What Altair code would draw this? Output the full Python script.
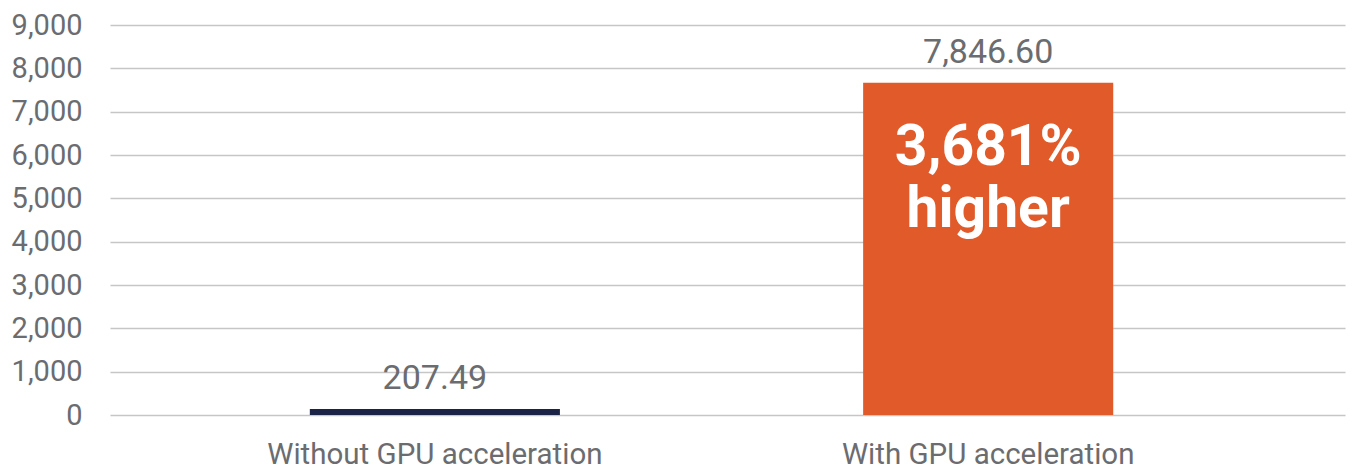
import altair as alt
import pandas as pd

categories = ["Without GPU acceleration", "With GPU acceleration"]
bar_values = [140, 7670]          # bar heights as drawn in the picture
value_labels = ["207.49", "7,846.60"]
bar_colors = ["#1B2447", "#E05A2A"]
annotation = ["3,681%", "higher"]

df = pd.DataFrame({
    "cat": categories,
    "value": bar_values,
    "label": value_labels,
    "color": bar_colors,
})
ann_df = pd.DataFrame({
    "cat": [categories[1]],
    "value": [bar_values[1]],
    "text": [annotation],
})

TXT = "#6B6C70"
FONT = "Roboto"

x = alt.X("cat:N", sort=categories, title=None,
          scale=alt.Scale(paddingInner=0.548, paddingOuter=0.39, align=0.463),
          axis=alt.Axis(labelAngle=0, labelFontSize=29.5, labelColor=TXT, labelFont=FONT,
                        domain=False, ticks=False, labelPadding=25, labelLimit=600))
y = alt.Y("value:Q", title=None,
          scale=alt.Scale(domain=[0, 9000], nice=False),
          axis=alt.Axis(values=list(range(0, 9001, 1000)), format=",.0f", labelFontSize=29,
                        labelColor=TXT, labelFont=FONT,
                        domain=False, ticks=False,
                        labelPadding=28, gridColor="#C6C6C6", gridWidth=1.5))

bars = alt.Chart(df).mark_bar().encode(
    x=x, y=y, color=alt.Color("color:N", scale=None)
)
labels = alt.Chart(df).mark_text(fontSize=34, color=TXT, font=FONT, dy=-20,
                                 baseline="alphabetic").encode(
    x=alt.X("cat:N", sort=categories), y="value:Q", text="label:N"
)
ann = alt.Chart(ann_df).mark_text(fontSize=57, color="white", font=FONT, fontWeight="bold",
                                  dy=82, baseline="alphabetic", lineHeight=62).encode(
    x=alt.X("cat:N", sort=categories), y="value:Q", text="text"
)

chart = (bars + labels + ann).properties(
    width=1235, height=390,
    autosize=alt.AutoSizeParams(type="none"),
    padding={"left": 110, "top": 25, "right": 7, "bottom": 53},
).configure_view(stroke=None)

chart.save("out.html", embed_options={"renderer": "svg", "actions": False})
